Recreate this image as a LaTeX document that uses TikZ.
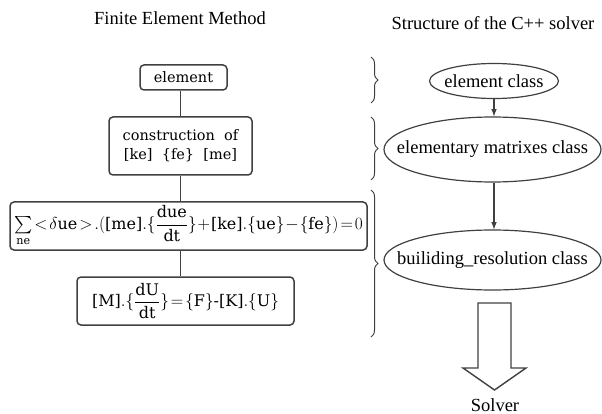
\documentclass[tikz,border=0pt]{standalone}
\usepackage{fontspec}
\usepackage{amsmath}
\setmainfont{Liberation Serif}
\newfontfamily\slabfont{DejaVu Serif}
\usetikzlibrary{arrows}
\usetikzlibrary{shapes}
\usetikzlibrary{decorations.pathreplacing}
\usetikzlibrary{positioning}

\begin{document}
\begin{tikzpicture}[x=1pt,y=-1pt]
\useasboundingbox (0,0) rectangle (602,414);
\tikzset{box/.style={
           draw=black!75,
           line width=1.5pt,
           rounded corners=4pt,
           align=center,
           font=\slabfont\fontsize{14.5}{19}\selectfont,
           inner sep=2pt,
           }
           }
\tikzset{formula/.style={
           box,
           font=\slabfont\fontsize{16}{19}\selectfont,
           }
           }
\tikzset{cls/.style={
           ellipse,
           draw=black!75,
           line width=1.2pt,
           inner xsep=-40pt,
           inner ysep=0pt,
           font=\fontsize{18.5}{20}\selectfont,
           }
           }
\tikzset{pil/.style={
           -latex,
           draw=black!75,
           line width=1.5pt,
           }
           }
\tikzset{brc/.style={
           decorate,
           decoration={brace,amplitude=7pt},
           draw=black!75,
           line width=1pt,
           }
           }
%==========================================
% titles
\node[font=\fontsize{18.5}{20}\selectfont] (tfem) at (180,18) {Finite Element Method};
\node[font=\fontsize{18.5}{20}\selectfont] (tcpp) at (493,23) {Structure of the C++ solver};
%==========================================
% finite element method
\node[box, minimum width=87pt, minimum height=25pt] (elem) at (183.5,77.5) {element};
\node[box, minimum width=143pt, minimum height=58pt] (constr) at (180.5,146)
  {construction\ \ of\\{}[ke]\ \ \{fe\}\ \ [me]};
\node[formula, minimum width=357pt, minimum height=48pt] (weak) at (188.5,226)
  {$\sum\limits_{\text{ne}}\!<\!\delta\text{ue}\!>\!.(\text{[me]}.\{\dfrac{\text{due}}{\text{dt}}\}
   \!+\!\text{[ke]}.\{\text{ue}\}\!-\!\{\text{fe}\})\!=\!0$};
\node[formula, minimum width=217pt, minimum height=48pt] (glob) at (185.5,301)
  {$\text{[M]}.\{\dfrac{\text{dU}}{\text{dt}}\}\!=\!\{\text{F}\}\text{-}\text{[K]}.\{\text{U}\}$};
\draw[draw=black!75, line width=1.5pt] (constr.north |- elem.south) -- (constr.north);
\draw[draw=black!75, line width=1.5pt] (constr.south) -- (constr.south |- weak.north);
\draw[draw=black!75, line width=1.5pt] (constr.south |- weak.south) -- (constr.south |- glob.north);
%==========================================
% braces
\draw[brc] (371,57) -- (371,103);
\draw[brc] (371,117) -- (371,180);
\draw[brc] (371,190) -- (371,337);
%==========================================
% C++ solver
\node[cls, minimum width=129pt, minimum height=35pt] (elemcls) at (494,81) {element class};
\node[cls, minimum width=217pt, minimum height=65pt] (matcls) at (492.5,149.5) {elementary matrixes class};
\node[cls, minimum width=217pt, minimum height=60pt] (rescls) at (492.5,260) {builiding\_resolution class};
\draw[pil] (elemcls.south) -- (elemcls.south |- matcls.north);
\draw[pil] (elemcls.south |- matcls.south) -- (elemcls.south |- rescls.north);
\draw[draw=black!75, line width=1.4pt, line join=miter]
  (478,303) -- (478,368) -- (463,368) -- (494.5,390) -- (526,368) -- (511,368) -- (511,303) -- cycle;
\node[font=\fontsize{18.5}{20}\selectfont] (solver) at (495,405) {Solver};
\end{tikzpicture}
\end{document}
